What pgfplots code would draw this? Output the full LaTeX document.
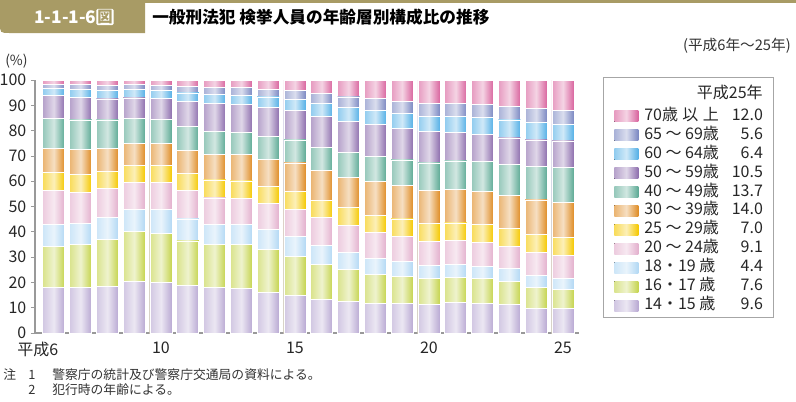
\documentclass[border=0pt]{standalone}
\usepackage{pgfplots}
\pgfplotsset{compat=1.18}
\usepackage{pgfplotstable}
\usepackage{fontspec}
\setmainfont{Noto Sans CJK JP}

\definecolor{hdr}{HTML}{A89B65}
\definecolor{cA}{HTML}{B9A9D3}% 14-15
\definecolor{cB}{HTML}{C5D44E}% 16-17
\definecolor{cC}{HTML}{B2D8F4}% 18-19
\definecolor{cD}{HTML}{E3B0CD}% 20-24
\definecolor{cE}{HTML}{F5C800}% 25-29
\definecolor{cF}{HTML}{DF8C25}% 30-39
\definecolor{cG}{HTML}{5DAA95}% 40-49
\definecolor{cH}{HTML}{8E6FAE}% 50-59
\definecolor{cI}{HTML}{55B0E6}% 60-64
\definecolor{cJ}{HTML}{7B88C2}% 65-69
\definecolor{cK}{HTML}{D9649E}% 70+

% share of each age group, Heisei 6 to 25
\pgfplotstableread{
yr a b c d e f g h i j k
6  17.9 16.4 8.6 13.6 7.0  9.3 12.0  9.0 2.7 1.9  1.6
7  18.1 17.0 8.2 12.4 7.1  9.6 11.8  8.8 3.2 2.0  1.8
8  18.5 18.5 8.5 11.8 6.7  9.1 11.1  8.3 3.4 1.9  2.2
9  20.3 19.7 8.8 10.8 6.6  8.7  9.8  8.2 3.2 2.0  1.9
10 20.1 19.1 9.5 10.9 6.6  8.7  9.6  8.2 3.2 2.0  2.1
11 18.7 17.7 8.7 11.1 6.8  9.2  9.3 10.0 3.4 2.5  2.6
12 18.1 17.0 7.8 10.5 7.1 10.0  9.3 11.0 3.6 2.8  2.8
13 17.7 17.3 7.9 10.2 7.0 10.4  8.8 11.0 3.7 2.9  3.1
14 16.2 17.0 7.7 10.3 6.7 10.8  9.0 11.4 4.2 2.9  3.8
15 14.9 15.3 8.0 10.8 7.0 11.2  9.1 11.7 4.4 3.3  4.3
16 13.3 13.9 7.5 10.9 6.9 11.6  9.3 12.1 5.2 3.9  5.4
17 12.6 12.7 6.7 10.5 7.0 12.0  9.7 12.3 5.6 4.2  6.7
18 11.7 11.4 6.3 10.5 6.7 13.2  9.9 12.8 5.6 4.5  7.4
19 11.7 10.6 5.9 10.0 6.9 13.2 10.1 12.6 5.7 4.9  8.4
20 11.4 10.0 5.4  9.5 7.0 13.0 10.9 12.3 6.0 5.4  9.1
21 12.0  9.8 5.4  9.5 6.8 13.2 11.3 11.4 6.1 5.4  9.1
22 11.8  9.6 5.0  9.5 7.1 13.0 11.7 10.9 6.5 5.4  9.5
23 11.3  9.0 5.1  8.9 6.9 13.2 12.1 10.6 7.1 5.4 10.4
24  9.8  8.2 4.7  9.3 7.0 13.6 13.2 10.5 7.0 5.3 11.4
25  9.6  7.6 4.4  9.1 7.0 14.0 13.7 10.5 6.4 5.6 12.0
}\agedata
% running totals, so each segment can be drawn as its own bar from 0
\pgfplotstablecreatecol[expr={\thisrow{a}}]{sa}\agedata
\pgfplotstablecreatecol[expr={\thisrow{sa}+\thisrow{b}}]{sb}\agedata
\pgfplotstablecreatecol[expr={\thisrow{sb}+\thisrow{c}}]{sc}\agedata
\pgfplotstablecreatecol[expr={\thisrow{sc}+\thisrow{d}}]{sd}\agedata
\pgfplotstablecreatecol[expr={\thisrow{sd}+\thisrow{e}}]{se}\agedata
\pgfplotstablecreatecol[expr={\thisrow{se}+\thisrow{f}}]{sf}\agedata
\pgfplotstablecreatecol[expr={\thisrow{sf}+\thisrow{g}}]{sg}\agedata
\pgfplotstablecreatecol[expr={\thisrow{sg}+\thisrow{h}}]{sh}\agedata
\pgfplotstablecreatecol[expr={\thisrow{sh}+\thisrow{i}}]{si}\agedata
\pgfplotstablecreatecol[expr={\thisrow{si}+\thisrow{j}}]{sj}\agedata
\pgfplotstablecreatecol[expr={\thisrow{sj}+\thisrow{k}}]{sk}\agedata

\pgfplotsset{
  swatch/.style={legend image code/.code={\fill[##1,draw=none] (0pt,-4.1pt) rectangle (18pt,4.1pt);}},
  grad/.style={left color=#1!65!white, right color=#1, middle color=#1!28!white},
}
% one bar per year, so that each bar gets its own gradient
\newcommand{\segs}[2]{%
  \pgfplotsinvokeforeach{6,...,25}{
    \addplot[forget plot, bar shift=0pt, draw=white, line width=0.6pt, grad=#1,
      restrict x to domain=##1:##1]
      table[x=yr, y=#2]{\agedata};
  }}
\newcommand{\key}[2]{\addlegendimage{swatch, grad=#1}\addlegendentry{\makebox[89pt]{#2}}}

\begin{document}
\begin{tikzpicture}[x=0.75pt,y=-0.75pt]
\useasboundingbox (0,0) rectangle (796,401);
% header band
\fill[hdr] (0,0) -- (145,0) -- (145,33) -- (10,33) .. controls (0,33) .. (0,23) -- cycle;
\fill[hdr] (145,0) rectangle (796,2.5);
\node[anchor=west, text=white, font=\bfseries\fontsize{13}{13}\selectfont, inner sep=0pt] at (34,17) {1-1-1-6};
\node[fill=white, rounded corners=1pt, text=hdr, inner sep=0.8pt, font=\bfseries\fontsize{11.5}{11.5}\selectfont] at (105,17) {図};
\node[anchor=west, font=\bfseries\fontsize{12.5}{12.5}\selectfont, inner sep=0pt] at (152,17) {一般刑法犯 検挙人員の年齢層別構成比の推移};
\node[anchor=east, font=\fontsize{11}{11}\selectfont, inner sep=0pt, text=black!80] at (791,46) {(平成6年～25年)};
\node[anchor=west, font=\fontsize{10.5}{10.5}\selectfont, inner sep=0pt, text=black!80] at (5,61) {(\%)};
% notes
\begin{scope}[every node/.style={anchor=west, inner sep=0pt, font=\fontsize{9.6}{9.6}\selectfont, text=black!80}]
\node at (3,375) {注};
\node at (28,375) {1};
\node at (52,375) {警察庁の統計及び警察庁交通局の資料による。};
\node at (28,390) {2};
\node at (52,390) {犯行時の年齢による。};
\end{scope}
% legend frame and its heading
\draw[gray!70, line width=0.6pt] (603,77) rectangle (773,317);
\node[anchor=east, inner sep=0pt, font=\fontsize{12}{12}\selectfont, text=black!85] at (763,92) {平成25年};

\begin{axis}[
  at={(26.25pt,-249.75pt)}, anchor=south west,
  width=408pt, height=189.75pt, scale only axis,
  xmin=5.3, xmax=25.6, ymin=0, ymax=100,
  ybar, bar width=16.5pt,
  axis x line*=bottom, axis y line*=left,
  axis line style={gray!80, line width=0.8pt},
  xtick={6,10,15,20,25},
  xticklabels={\llap{平成}6,10,15,20,25},
  x tick style={draw=none},
  ytick={0,10,...,100},
  y tick style={gray!80, line width=0.6pt},
  tick align=outside, major tick length=3pt,
  tick label style={font=\fontsize{12}{12}\selectfont, text=black!85},
  /pgf/number format/assume math mode=true,
  legend cell align=left,
  legend style={at={(1.0643,0.8893)}, anchor=north west, draw=none, fill=none,
    font=\fontsize{12}{12}\selectfont, text=black!85,
    inner sep=0pt, row sep=2.2pt, column sep=4.5pt,
    nodes={inner sep=0pt, text height=9pt, text depth=3pt}},
]
% tallest running total first, lower ones painted over it
\segs{cK}{sk}
\segs{cJ}{sj}
\segs{cI}{si}
\segs{cH}{sh}
\segs{cG}{sg}
\segs{cF}{sf}
\segs{cE}{se}
\segs{cD}{sd}
\segs{cC}{sc}
\segs{cB}{sb}
\segs{cA}{sa}
\key{cK}{\makebox[56pt][s]{70歳\hfill 以\hfill 上}\hfill 12.0}
\key{cJ}{65 ～ 69歳\hfill 5.6}
\key{cI}{60 ～ 64歳\hfill 6.4}
\key{cH}{50 ～ 59歳\hfill 10.5}
\key{cG}{40 ～ 49歳\hfill 13.7}
\key{cF}{30 ～ 39歳\hfill 14.0}
\key{cE}{25 ～ 29歳\hfill 7.0}
\key{cD}{20 ～ 24歳\hfill 9.1}
\key{cC}{18・19 歳\hfill 4.4}
\key{cB}{16・17 歳\hfill 7.6}
\key{cA}{14・15 歳\hfill 9.6}
\end{axis}
\end{tikzpicture}
\end{document}
